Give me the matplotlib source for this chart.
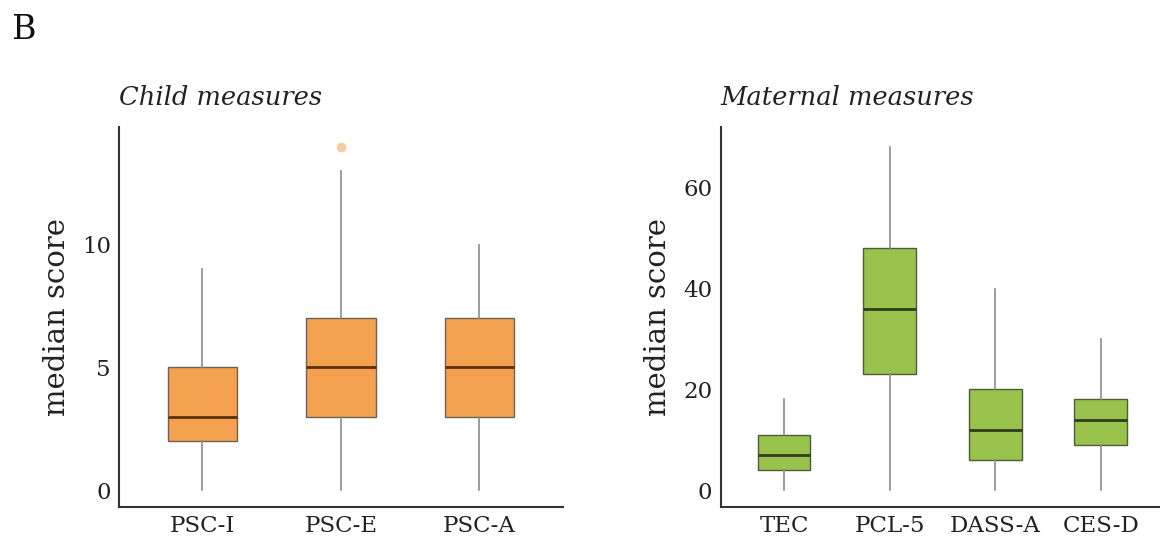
import matplotlib
matplotlib.use("Agg")
import matplotlib.pyplot as plt

# child measures (box stats)
child_labels = ["PSC-I", "PSC-E", "PSC-A"]
child_low = [0, 0, 0]
child_q1 = [2, 3, 3]
child_med = [3, 5, 5]
child_q3 = [5, 7, 7]
child_high = [9, 13, 10]
child_fliers = [[], [14], []]

# maternal measures
mat_labels = ["TEC", "PCL-5", "DASS-A", "CES-D"]
mat_low = [0, 0, 0, 0]
mat_q1 = [4, 23, 6, 9]
mat_med = [7, 36, 12, 14]
mat_q3 = [11, 48, 20, 18]
mat_high = [18, 68, 40, 30]
mat_fliers = [[], [], [], []]

plt.rcParams['font.family'] = ['DejaVu Serif']


def make_stats(labels, low, q1, med, q3, high, fliers):
    stats = []
    for i in range(len(labels)):
        stats.append({'label': labels[i], 'whislo': low[i], 'q1': q1[i], 'med': med[i],
                      'q3': q3[i], 'whishi': high[i], 'fliers': fliers[i]})
    return stats


def draw_panel(ax, stats, fill, edge, medc, flierc, title):
    ax.bxp(stats, positions=range(len(stats)), widths=0.5, patch_artist=True,
           showcaps=False,
           boxprops=dict(facecolor=fill, edgecolor=edge, linewidth=1.0),
           medianprops=dict(color=medc, linewidth=2.0),
           whiskerprops=dict(color='#8c8c8c', linewidth=1.2),
           flierprops=dict(marker='o', markerfacecolor=flierc, markeredgecolor='none',
                           markersize=7))
    for s in ['top', 'right']:
        ax.spines[s].set_visible(False)
    for s in ['left', 'bottom']:
        ax.spines[s].set_color('#333333')
        ax.spines[s].set_linewidth(1.5)
    ax.tick_params(length=0, labelsize=16.5, pad=6, colors='#222222')
    ax.set_ylabel('median score', fontsize=21, color='#222222', labelpad=8)
    ax.set_title(title, loc='left', fontsize=18.5, style='italic', color='#222222', pad=16)


fig = plt.figure(figsize=(11.6, 5.51), dpi=100)

ax1 = fig.add_axes([0.1028, 0.0804, 0.3822, 0.6886])
draw_panel(ax1, make_stats(child_labels, child_low, child_q1, child_med, child_q3, child_high, child_fliers),
           '#F4A14F', '#6e6256', '#5C300C', '#F9CBA3', 'Child measures')
ax1.set_xlim(-0.6, 2.6)
ax1.set_ylim(-0.68, 14.8)
ax1.set_yticks([0, 5, 10])

ax2 = fig.add_axes([0.6213, 0.0804, 0.3787, 0.6886])
draw_panel(ax2, make_stats(mat_labels, mat_low, mat_q1, mat_med, mat_q3, mat_high, mat_fliers),
           '#98C24B', '#4d5d3a', '#2E3D1F', '#c8e0a0', 'Maternal measures')
ax2.set_xlim(-0.6, 3.56)
ax2.set_ylim(-3.3, 72)
ax2.set_yticks([0, 20, 40, 60])

fig.text(0.01, 0.945, 'B', fontsize=24, color='#111111', va='center', ha='left')

fig.savefig('out.png', dpi=100)
